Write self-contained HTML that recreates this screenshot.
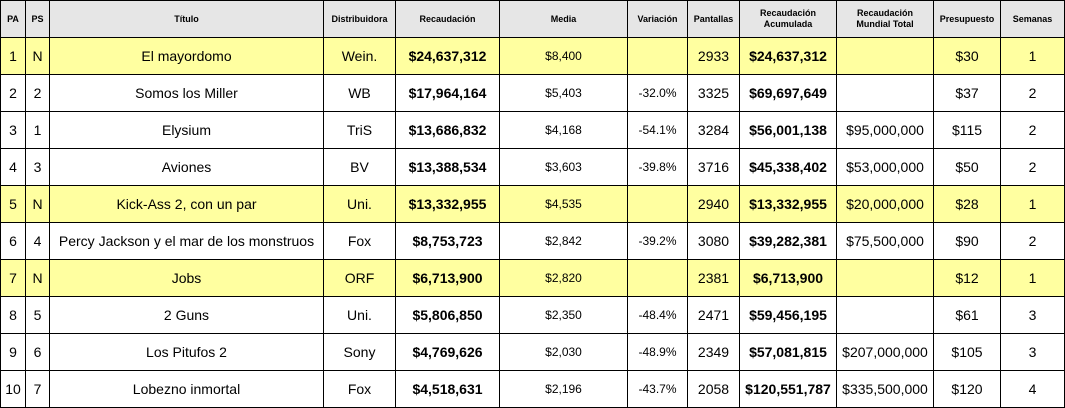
<!DOCTYPE html>
<html><head><meta charset="utf-8"><style>
body{margin:0;width:1065px;height:408px;background:#fff;overflow:hidden}
table{border-collapse:collapse;table-layout:fixed;position:absolute;left:0;top:0;width:1064px;font-family:"Liberation Sans",Arial,sans-serif}
td,th{border:1px solid #000;padding:0;text-align:center;height:36px;font-size:14px;color:#000;white-space:nowrap;overflow:hidden}
th{background:#e6e6e6;font-size:9px;font-weight:bold;line-height:11px}
tr.y td{background:#ffffa0}
td.b{font-weight:bold;font-size:14px}
td.s{font-size:12px}
</style></head><body>
<table>
<colgroup><col style="width:25px"><col style="width:24px"><col style="width:274px"><col style="width:72px"><col style="width:104px"><col style="width:128px"><col style="width:60px"><col style="width:52px"><col style="width:97px"><col style="width:97px"><col style="width:67px"><col style="width:64px"></colgroup>
<tr><th>PA</th><th>PS</th><th>Título</th><th>Distribuidora</th><th>Recaudación</th><th>Media</th><th>Variación</th><th>Pantallas</th><th>Recaudación<br>Acumulada</th><th>Recaudación<br>Mundial Total</th><th>Presupuesto</th><th>Semanas</th></tr>
<tr class="y"><td>1</td><td>N</td><td>El mayordomo</td><td>Wein.</td><td class="b">$24,637,312</td><td class="s">$8,400</td><td class="s"></td><td>2933</td><td class="b">$24,637,312</td><td></td><td>$30</td><td>1</td></tr>
<tr><td>2</td><td>2</td><td>Somos los Miller</td><td>WB</td><td class="b">$17,964,164</td><td class="s">$5,403</td><td class="s">-32.0%</td><td>3325</td><td class="b">$69,697,649</td><td></td><td>$37</td><td>2</td></tr>
<tr><td>3</td><td>1</td><td>Elysium</td><td>TriS</td><td class="b">$13,686,832</td><td class="s">$4,168</td><td class="s">-54.1%</td><td>3284</td><td class="b">$56,001,138</td><td>$95,000,000</td><td>$115</td><td>2</td></tr>
<tr><td>4</td><td>3</td><td>Aviones</td><td>BV</td><td class="b">$13,388,534</td><td class="s">$3,603</td><td class="s">-39.8%</td><td>3716</td><td class="b">$45,338,402</td><td>$53,000,000</td><td>$50</td><td>2</td></tr>
<tr class="y"><td>5</td><td>N</td><td>Kick-Ass 2, con un par</td><td>Uni.</td><td class="b">$13,332,955</td><td class="s">$4,535</td><td class="s"></td><td>2940</td><td class="b">$13,332,955</td><td>$20,000,000</td><td>$28</td><td>1</td></tr>
<tr><td>6</td><td>4</td><td>Percy Jackson y el mar de los monstruos</td><td>Fox</td><td class="b">$8,753,723</td><td class="s">$2,842</td><td class="s">-39.2%</td><td>3080</td><td class="b">$39,282,381</td><td>$75,500,000</td><td>$90</td><td>2</td></tr>
<tr class="y"><td>7</td><td>N</td><td>Jobs</td><td>ORF</td><td class="b">$6,713,900</td><td class="s">$2,820</td><td class="s"></td><td>2381</td><td class="b">$6,713,900</td><td></td><td>$12</td><td>1</td></tr>
<tr><td>8</td><td>5</td><td>2 Guns</td><td>Uni.</td><td class="b">$5,806,850</td><td class="s">$2,350</td><td class="s">-48.4%</td><td>2471</td><td class="b">$59,456,195</td><td></td><td>$61</td><td>3</td></tr>
<tr><td>9</td><td>6</td><td>Los Pitufos 2</td><td>Sony</td><td class="b">$4,769,626</td><td class="s">$2,030</td><td class="s">-48.9%</td><td>2349</td><td class="b">$57,081,815</td><td>$207,000,000</td><td>$105</td><td>3</td></tr>
<tr><td>10</td><td>7</td><td>Lobezno inmortal</td><td>Fox</td><td class="b">$4,518,631</td><td class="s">$2,196</td><td class="s">-43.7%</td><td>2058</td><td class="b">$120,551,787</td><td>$335,500,000</td><td>$120</td><td>4</td></tr>
</table>
</body></html>
